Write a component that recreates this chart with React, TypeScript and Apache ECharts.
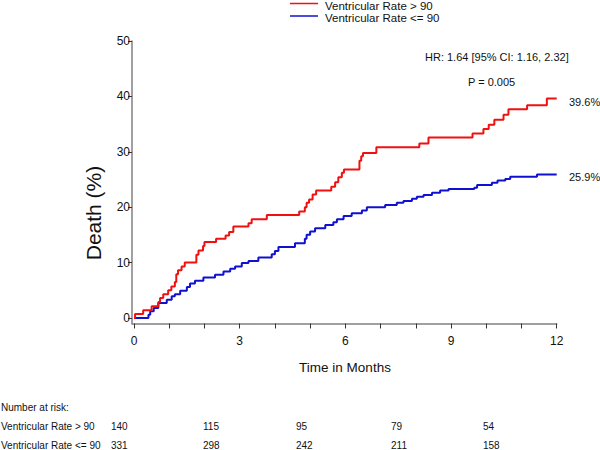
import { useEffect, useRef } from 'react';
import * as echarts from 'echarts';

const seriesNames = ['Ventricular Rate > 90', 'Ventricular Rate <= 90'];

const highTime = [0, 0.03, 0.26, 0.5, 0.69, 0.74, 0.83, 0.97, 1.06, 1.16, 1.2, 1.25, 1.35, 1.44, 1.77, 1.83, 1.96, 2.0, 2.33, 2.6, 2.7, 2.82, 3.25, 3.34, 3.77, 4.69, 4.85, 4.9, 4.97, 5.07, 5.17, 5.6, 5.71, 5.8, 5.9, 5.96, 6.4, 6.45, 6.5, 6.88, 8.1, 8.36, 9.61, 9.92, 10.07, 10.23, 10.49, 10.63, 11.16, 11.72, 12.0];
const highDeath = [0, 0.7, 1.4, 2.1, 2.9, 3.6, 4.3, 5.0, 5.7, 6.5, 7.9, 8.6, 9.3, 10.0, 11.4, 12.2, 13.0, 13.7, 14.3, 14.9, 15.5, 16.5, 17.1, 17.8, 18.6, 19.2, 20.0, 20.8, 21.4, 22.3, 23.0, 23.7, 24.5, 25.4, 26.2, 26.8, 28.4, 29.2, 29.8, 30.8, 31.5, 32.6, 33.3, 34.1, 34.9, 35.8, 36.7, 37.7, 38.4, 39.6, 39.6];

const lowTime = [0, 0.41, 0.46, 0.56, 0.69, 0.93, 1.07, 1.16, 1.31, 1.5, 1.59, 1.73, 1.97, 2.3, 2.54, 2.73, 2.87, 3.06, 3.25, 3.53, 3.91, 4.0, 4.1, 4.57, 4.85, 4.9, 5.0, 5.14, 5.43, 5.66, 5.76, 5.95, 6.18, 6.47, 6.61, 7.13, 7.46, 7.65, 7.89, 8.03, 8.22, 8.46, 8.69, 8.93, 9.66, 9.74, 10.16, 10.32, 10.54, 10.68, 11.44, 12.0];
const lowDeath = [0, 0.6, 1.2, 1.8, 2.7, 3.3, 3.9, 4.3, 4.9, 5.6, 6.2, 6.7, 7.3, 7.8, 8.4, 8.9, 9.3, 9.9, 10.3, 10.9, 11.5, 12.1, 12.8, 13.5, 14.3, 15.0, 15.6, 16.2, 16.8, 17.3, 17.8, 18.4, 18.9, 19.4, 20.0, 20.4, 20.8, 21.1, 21.5, 21.9, 22.2, 22.6, 23.0, 23.3, 23.5, 24.0, 24.4, 24.8, 25.1, 25.5, 25.9, 25.9];

const xTicks = [0, 1, 2, 3, 4, 5, 6, 7, 8, 9, 10, 11, 12];
const xLabels = [0, 3, 6, 9, 12];
const yLabels = [0, 10, 20, 30, 40, 50];

const hrText = 'HR: 1.64 [95% CI: 1.16, 2.32]';
const pText = 'P = 0.005';
const endLabels = ['39.6%', '25.9%'];

const riskTitle = 'Number at risk:';
const riskHigh = [140, 115, 95, 79, 54];
const riskLow = [331, 298, 242, 211, 158];

const colors = ['#f01010', '#1010d0'];
const FONT = '"Liberation Sans", Arial, Helvetica, sans-serif';
const riskColX = [111, 203, 296, 391, 483];

export default function App() {
  const ref = useRef<HTMLDivElement>(null);
  useEffect(() => {
    if (!ref.current) return;
    const chart = echarts.init(ref.current, undefined, { renderer: 'svg' });
    const txt = (x: number, y: number, text: string, size: number, align = 'left', extra: any = {}) => ({
      type: 'text',
      x,
      y,
      ...extra,
      style: { text, font: `${size}px ${FONT}`, fill: '#111', align, verticalAlign: 'middle' },
    });
    const graphics: any[] = [
      { type: 'line', shape: { x1: 290, y1: 3.5, x2: 318, y2: 3.5 }, style: { stroke: colors[0], lineWidth: 1.5 } },
      txt(325, 6, seriesNames[0], 11.5),
      { type: 'line', shape: { x1: 290, y1: 16, x2: 318, y2: 16 }, style: { stroke: colors[1], lineWidth: 1.5 } },
      txt(325, 18, seriesNames[1], 11.5),
      txt(425, 57, hrText, 11),
      txt(468, 82, pText, 11),
      txt(569, 102, endLabels[0], 11),
      txt(569, 177, endLabels[1], 11),
      txt(93, 213, 'Death (%)', 21, 'center', { rotation: Math.PI / 2 }),
      txt(345, 367, 'Time in Months', 13.5, 'center'),
      txt(1, 407, riskTitle, 10),
      txt(1, 426.5, seriesNames[0], 10),
      txt(1, 445.5, seriesNames[1], 10),
    ];
    riskHigh.forEach((v, i) => graphics.push(txt(riskColX[i], 426.5, String(v), 10)));
    riskLow.forEach((v, i) => graphics.push(txt(riskColX[i], 445.5, String(v), 10)));

    chart.setOption({
      animation: false,
      grid: { left: 132, right: 43.3, top: 41, bottom: 126.5, containLabel: false },
      xAxis: {
        type: 'value',
        min: -0.057,
        max: 12,
        splitLine: { show: false },
        axisLine: { onZero: false, lineStyle: { color: '#808080', width: 1.5 } },
        axisTick: { length: 5, customValues: xTicks, lineStyle: { color: '#333' } },
        axisLabel: { customValues: xLabels, fontSize: 12, color: '#111', fontFamily: FONT, margin: 11 },
      },
      yAxis: {
        type: 'value',
        min: -1,
        max: 50,
        splitLine: { show: false },
        axisLine: { show: true, onZero: false, lineStyle: { color: '#808080', width: 1.5 } },
        axisTick: { show: true, length: 4, customValues: yLabels, lineStyle: { color: '#333' } },
        axisLabel: { customValues: yLabels, fontSize: 12, color: '#111', fontFamily: FONT, margin: 2 },
      },
      series: [
        {
          name: seriesNames[0],
          type: 'line',
          step: 'end',
          showSymbol: false,
          data: highTime.map((t, i) => [t, highDeath[i]]),
          lineStyle: { color: colors[0], width: 2 },
          itemStyle: { color: colors[0] },
          z: 3,
        },
        {
          name: seriesNames[1],
          type: 'line',
          step: 'end',
          showSymbol: false,
          data: lowTime.map((t, i) => [t, lowDeath[i]]),
          lineStyle: { color: colors[1], width: 2 },
          itemStyle: { color: colors[1] },
          z: 2,
        },
      ],
      graphic: graphics,
    });
    return () => chart.dispose();
  }, []);
  return <div ref={ref} style={{ position: 'fixed', left: 0, top: 0, width: 600, height: 450, background: '#fff' }} />;
}
